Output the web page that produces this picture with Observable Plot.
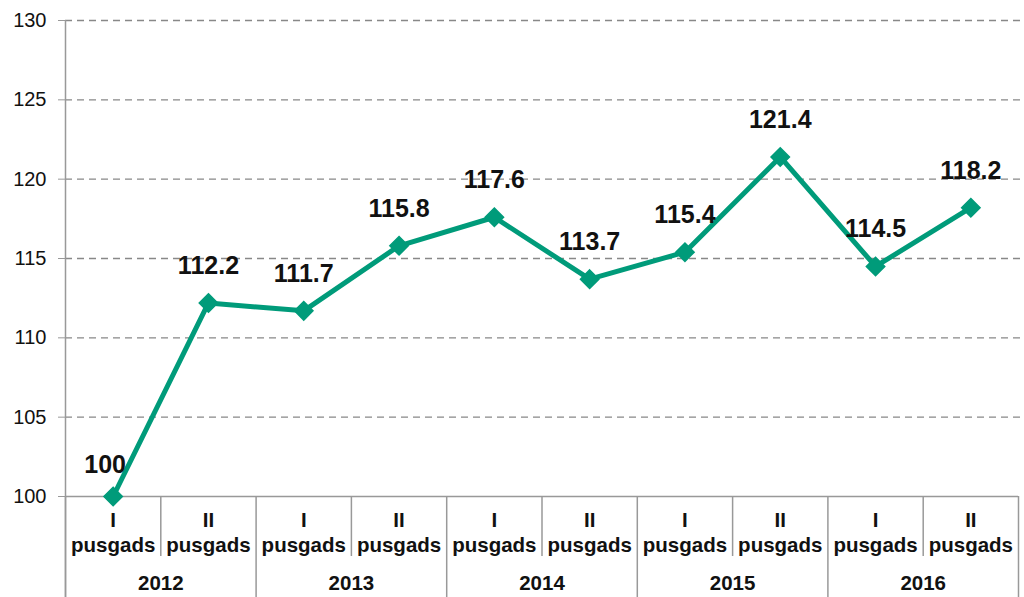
<!DOCTYPE html>
<html>
<head>
<meta charset="utf-8">
<script src="https://cdn.jsdelivr.net/npm/d3@7"></script>
<script src="https://cdn.jsdelivr.net/npm/@observablehq/plot@0.6"></script>
<style>
  html, body { margin: 0; padding: 0; background: #fff; }
  #chart { width: 1024px; height: 597px; }
</style>
</head>
<body>
<div id="chart"></div>
<script>
const halves = ["I\npusgads", "II\npusgads"];
const years = ["2012", "2013", "2014", "2015", "2016"];
const values = [100, 112.2, 111.7, 115.8, 117.6, 113.7, 115.4, 121.4, 114.5, 118.2];
const valueLabels = ["100", "112.2", "111.7", "115.8", "117.6", "113.7", "115.4", "121.4", "114.5", "118.2"];
const yTicks = [100, 105, 110, 115, 120, 125, 130];

const data = values.map((v, i) => ({
  pos: i + 0.5,
  value: v,
  label: valueLabels[i],
  half: halves[i % 2]
}));
const yearData = years.map((y, i) => ({pos: 2 * i + 1, year: y}));
const yearBounds = d3.range(0, years.length + 1).map(i => 2 * i);
const halfBounds = d3.range(0, years.length).map(i => 2 * i + 1);

const color = "#009b7a";
const font = "'Liberation Sans', Arial, sans-serif";

const chart = Plot.plot({
  width: 1024,
  height: 597,
  marginLeft: 65,
  marginRight: 6,
  marginTop: 20,
  marginBottom: 101,
  style: {fontFamily: font, background: "#fff"},
  x: {domain: [0, values.length], axis: null},
  y: {domain: [100, 130], axis: null, label: null},
  marks: [
    Plot.ruleY(yTicks.filter(t => t > 100), {y: d => d, x1: 0, x2: values.length, insetRight: -2, stroke: "#888", strokeWidth: 1.3, strokeDasharray: "7,5"}),
    Plot.axisY({ticks: yTicks, tickSize: 7, tickPadding: 12, fontSize: 20, stroke: "#999", fill: "#111", label: null, tickFormat: d => String(d)}),
    Plot.ruleY([100], {x1: 0, x2: values.length, stroke: "#999", strokeWidth: 1.5}),
    Plot.ruleX([0], {y1: 130, y2: 100, insetBottom: -101, stroke: "#999", strokeWidth: 1.5}),
    Plot.ruleX(yearBounds, {x: d => d, y1: 100, y2: 100, insetBottom: -101, stroke: "#999", strokeWidth: 1.5}),
    Plot.ruleX(halfBounds, {x: d => d, y1: 100, y2: 100, insetBottom: -60, stroke: "#999", strokeWidth: 1.5}),
    Plot.line(data, {x: "pos", y: "value", stroke: color, strokeWidth: 5}),
    Plot.dot(data, {x: "pos", y: "value", symbol: "diamond2", r: 8.3, fill: color, stroke: color}),
    Plot.text(data.filter((d, i) => i > 0), {x: "pos", y: "value", text: "label", dy: -37, fontSize: 25, fontWeight: "bold", fill: "#111"}),
    Plot.text(data.filter((d, i) => i === 0), {x: "pos", y: "value", text: "label", dy: -32, dx: -8, fontSize: 25, fontWeight: "bold", fill: "#111"}),
    Plot.text(data, {x: "pos", y: 100, text: "half", lineAnchor: "top", dy: 13, lineHeight: 1.2, fontSize: 20.5, fontWeight: "bold", fill: "#111"}),
    Plot.text(yearData, {x: "pos", y: 100, text: "year", lineAnchor: "middle", dy: 87, fontSize: 20.5, fontWeight: "bold", fill: "#111"})
  ]
});
document.getElementById("chart").appendChild(chart);
</script>
</body>
</html>
